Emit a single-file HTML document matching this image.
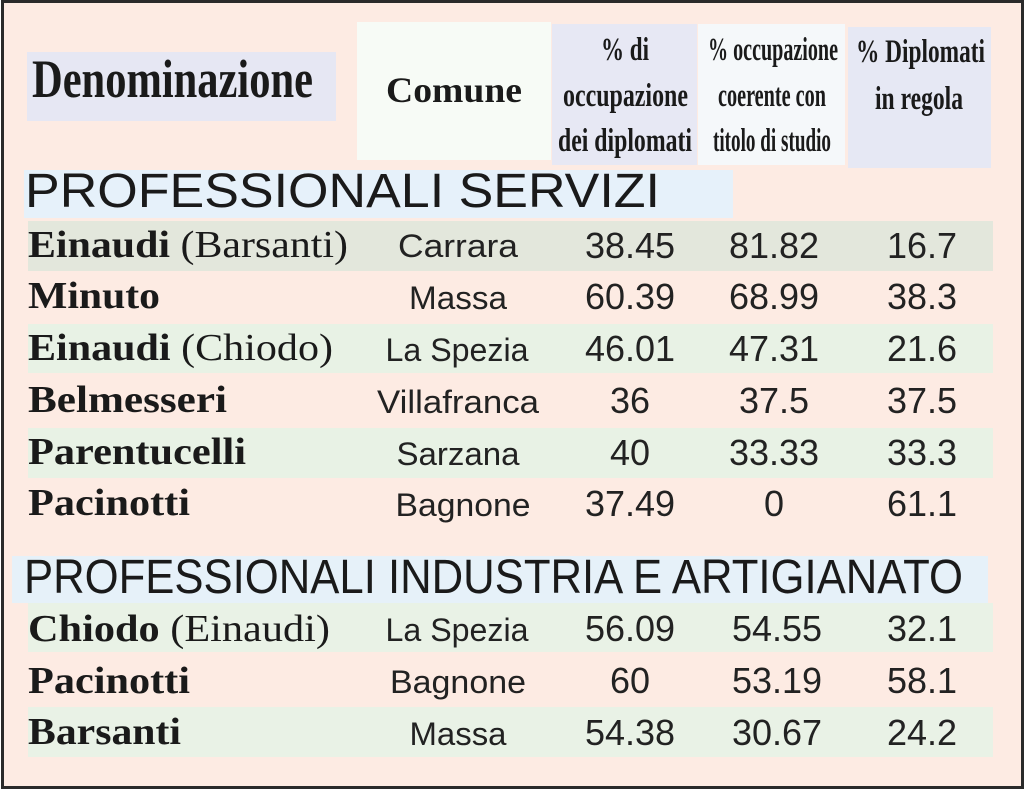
<!DOCTYPE html>
<html><head><meta charset="utf-8"><style>
html,body{margin:0;padding:0;background:#fff;}
svg{display:block;}
.n{font-family:"Liberation Serif",serif;font-weight:bold;font-size:38px;fill:#1a1a1a;}
.p{font-family:"Liberation Serif",serif;font-weight:normal;}
.c{font-family:"Liberation Sans",sans-serif;font-size:32px;fill:#222;}
.v{font-family:"Liberation Sans",sans-serif;font-size:36px;fill:#222;}
.h{font-family:"Liberation Serif",serif;font-weight:bold;fill:#1a1a1a;}
.s{font-family:"Liberation Sans",sans-serif;fill:#1a1a1a;}
</style></head><body>
<svg width="1024" height="790" viewBox="0 0 1024 790" xmlns="http://www.w3.org/2000/svg">
<rect x="2.5" y="1.5" width="1020" height="786" fill="#fdebe3" stroke="#2a2a2a" stroke-width="3"/>
<rect x="27" y="52" width="309" height="69" fill="#e6e7f3"/>
<rect x="357" y="22" width="194" height="138" fill="#f7fbf6"/>
<rect x="552" y="24" width="145" height="141" fill="#e7e8f4"/>
<rect x="698" y="24" width="147" height="141" fill="#f5f8fa"/>
<rect x="848" y="27" width="143" height="141" fill="#e6e8f4"/>
<text class="h" x="32" y="97" font-size="54" textLength="281" lengthAdjust="spacingAndGlyphs">Denominazione</text>
<text class="h" x="386" y="102" font-size="36" textLength="136" lengthAdjust="spacingAndGlyphs">Comune</text>
<text class="h" x="625" y="60" font-size="33" text-anchor="middle" textLength="48" lengthAdjust="spacingAndGlyphs">% di</text>
<text class="h" x="563" y="106" font-size="33" textLength="125" lengthAdjust="spacingAndGlyphs">occupazione</text>
<text class="h" x="558" y="151" font-size="33" textLength="134" lengthAdjust="spacingAndGlyphs">dei diplomati</text>
<text class="h" x="708" y="60" font-size="33" textLength="130" lengthAdjust="spacingAndGlyphs">% occupazione</text>
<text class="h" x="718" y="106" font-size="33" textLength="108" lengthAdjust="spacingAndGlyphs">coerente con</text>
<text class="h" x="713" y="151" font-size="33" textLength="118" lengthAdjust="spacingAndGlyphs">titolo di studio</text>
<text class="h" x="856" y="62" font-size="33" textLength="129" lengthAdjust="spacingAndGlyphs">% Diplomati</text>
<text class="h" x="875" y="109" font-size="33" textLength="88" lengthAdjust="spacingAndGlyphs">in regola</text>
<rect x="24" y="170" width="709" height="48" fill="#e6f1fa"/>
<text class="s" x="25" y="207" font-size="48" textLength="635" lengthAdjust="spacingAndGlyphs">PROFESSIONALI SERVIZI</text>
<rect x="28" y="221" width="965" height="50" fill="#e3e7dc"/>
<rect x="28" y="324" width="965" height="49" fill="#e8f2e5"/>
<rect x="28" y="428" width="965" height="50" fill="#e8f2e5"/>

<text class="n" x="28" y="257" textLength="320" lengthAdjust="spacingAndGlyphs">Einaudi <tspan class="p">(Barsanti)</tspan></text>
<text class="c" x="458" y="257" text-anchor="middle" textLength="120" lengthAdjust="spacingAndGlyphs">Carrara</text>
<text class="v" x="630" y="258" text-anchor="middle">38.45</text>
<text class="v" x="774" y="258" text-anchor="middle">81.82</text>
<text class="v" x="922" y="258" text-anchor="middle">16.7</text>

<text class="n" x="28" y="308" textLength="132" lengthAdjust="spacingAndGlyphs">Minuto</text>
<text class="c" x="458" y="309" text-anchor="middle" textLength="98" lengthAdjust="spacingAndGlyphs">Massa</text>
<text class="v" x="630" y="309" text-anchor="middle">60.39</text>
<text class="v" x="774" y="309" text-anchor="middle">68.99</text>
<text class="v" x="922" y="309" text-anchor="middle">38.3</text>

<text class="n" x="28" y="360" textLength="305" lengthAdjust="spacingAndGlyphs">Einaudi <tspan class="p">(Chiodo)</tspan></text>
<text class="c" x="457" y="361" text-anchor="middle" textLength="143" lengthAdjust="spacingAndGlyphs">La Spezia</text>
<text class="v" x="630" y="361" text-anchor="middle">46.01</text>
<text class="v" x="774" y="361" text-anchor="middle">47.31</text>
<text class="v" x="922" y="361" text-anchor="middle">21.6</text>

<text class="n" x="28" y="412" textLength="199" lengthAdjust="spacingAndGlyphs">Belmesseri</text>
<text class="c" x="458" y="413" text-anchor="middle" textLength="162" lengthAdjust="spacingAndGlyphs">Villafranca</text>
<text class="v" x="630" y="413" text-anchor="middle">36</text>
<text class="v" x="774" y="413" text-anchor="middle">37.5</text>
<text class="v" x="922" y="413" text-anchor="middle">37.5</text>

<text class="n" x="28" y="464" textLength="218" lengthAdjust="spacingAndGlyphs">Parentucelli</text>
<text class="c" x="458" y="465" text-anchor="middle" textLength="123" lengthAdjust="spacingAndGlyphs">Sarzana</text>
<text class="v" x="630" y="465" text-anchor="middle">40</text>
<text class="v" x="774" y="465" text-anchor="middle">33.33</text>
<text class="v" x="922" y="465" text-anchor="middle">33.3</text>

<text class="n" x="28" y="515" textLength="162" lengthAdjust="spacingAndGlyphs">Pacinotti</text>
<text class="c" x="463" y="516" text-anchor="middle" textLength="135" lengthAdjust="spacingAndGlyphs">Bagnone</text>
<text class="v" x="630" y="516" text-anchor="middle">37.49</text>
<text class="v" x="774" y="516" text-anchor="middle">0</text>
<text class="v" x="922" y="516" text-anchor="middle">61.1</text>

<rect x="12" y="556" width="976" height="47" fill="#e6f1f9"/>
<text class="s" x="24" y="593" font-size="48" textLength="939" lengthAdjust="spacingAndGlyphs">PROFESSIONALI INDUSTRIA E ARTIGIANATO</text>
<rect x="28" y="603" width="965" height="49" fill="#e9f2e6"/>
<rect x="28" y="707" width="965" height="50" fill="#e9f2e6"/>

<text class="n" x="28" y="641" textLength="302" lengthAdjust="spacingAndGlyphs">Chiodo <tspan class="p">(Einaudi)</tspan></text>
<text class="c" x="457" y="641" text-anchor="middle" textLength="143" lengthAdjust="spacingAndGlyphs">La Spezia</text>
<text class="v" x="630" y="641" text-anchor="middle">56.09</text>
<text class="v" x="777" y="641" text-anchor="middle">54.55</text>
<text class="v" x="922" y="641" text-anchor="middle">32.1</text>

<text class="n" x="28" y="693" textLength="162" lengthAdjust="spacingAndGlyphs">Pacinotti</text>
<text class="c" x="458" y="693" text-anchor="middle" textLength="136" lengthAdjust="spacingAndGlyphs">Bagnone</text>
<text class="v" x="630" y="693" text-anchor="middle">60</text>
<text class="v" x="777" y="693" text-anchor="middle">53.19</text>
<text class="v" x="922" y="693" text-anchor="middle">58.1</text>

<text class="n" x="28" y="744" textLength="153" lengthAdjust="spacingAndGlyphs">Barsanti</text>
<text class="c" x="458" y="745" text-anchor="middle" textLength="97" lengthAdjust="spacingAndGlyphs">Massa</text>
<text class="v" x="630" y="745" text-anchor="middle">54.38</text>
<text class="v" x="777" y="745" text-anchor="middle">30.67</text>
<text class="v" x="922" y="745" text-anchor="middle">24.2</text>
</svg>
</body></html>
